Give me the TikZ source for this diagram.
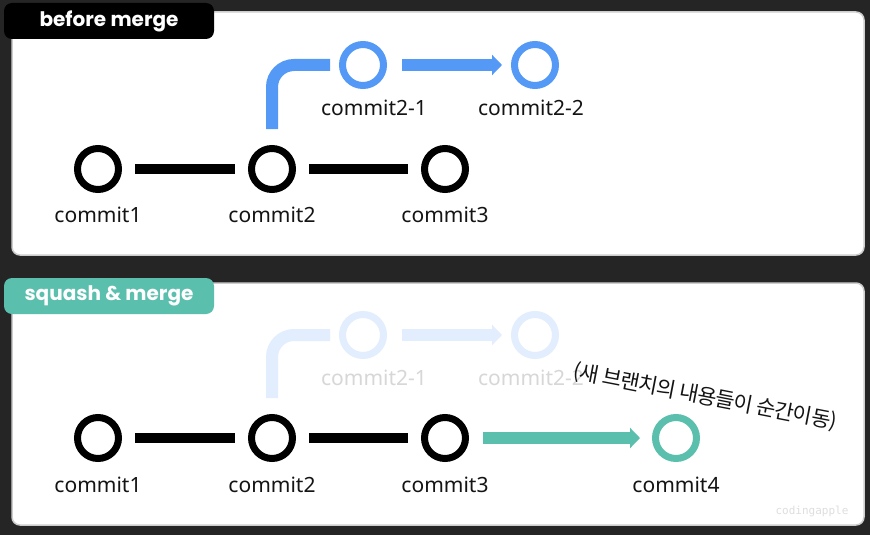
\documentclass[tikz,border=0pt]{standalone}
\usepackage{fontspec}
\setmainfont{Noto Sans}
\newfontfamily\titlefont{Poppins}
\newfontfamily\krfont[LetterSpace=-4]{Noto Sans CJK KR}
\newfontfamily\wmfont{DejaVu Sans Mono}
\usetikzlibrary{arrows.meta}
\definecolor{bgdark}{RGB}{37,37,37}
\definecolor{panelline}{RGB}{205,205,205}
\definecolor{blueC}{RGB}{84,153,245}
\definecolor{tealC}{RGB}{91,191,173}
\definecolor{fadeblue}{RGB}{226,238,253}
\definecolor{fadegrey}{RGB}{215,215,215}
\definecolor{wmgrey}{RGB}{222,222,222}
\definecolor{txt}{RGB}{20,20,20}
\tikzset{
  panel/.style={fill=white, draw=panelline, line width=1.5pt, rounded corners=8pt},
  tab/.style={rounded corners=8pt, minimum width=210pt, minimum height=36pt, inner sep=0pt, text=white, font=\titlefont\bfseries\fontsize{20}{24}\selectfont},
  commit/.style={circle, draw=black, line width=7pt, minimum size=41pt, inner sep=0pt},
  bcommit/.style={commit, draw=blueC},
  fcommit/.style={commit, draw=fadeblue},
  tcommit/.style={commit, draw=tealC},
  lbl/.style={anchor=base, inner sep=0pt, text=txt, font=\fontsize{21}{24}\selectfont},
  flbl/.style={lbl, text=fadegrey},
  blkline/.style={line width=10pt, draw=black, shorten <=13pt, shorten >=13pt},
  barrow/.style={line width=12pt, draw=blueC, -{Triangle[length=10pt,width=20pt]}, shorten <=15pt, shorten >=9pt},
  branch/.style={line width=12pt, draw=blueC, rounded corners=22pt},
}
\begin{document}
\begin{tikzpicture}[x=1pt,y=-1pt]
\fill[bgdark] (0,0) rectangle (870,535);
\useasboundingbox (0,0) rectangle (870,535);
% panels
\draw[panel] (12,12) rectangle (864,255);
\draw[panel] (12,283) rectangle (864,525);
\node[tab, fill=black] (tab1) at (109,21) {\raisebox{-2pt}{before merge}};
\node[tab, fill=tealC] (tab2) at (109,296) {\raisebox{-2pt}{squash \& merge}};

% ---- panel 1 ----
\node[commit] (a1) at (98,169) {};
\node[commit] (a2) at (272,169) {};
\node[commit] (a3) at (445,169) {};
\node[bcommit] (a21) at (363,65) {};
\node[bcommit] (a22) at (535,65) {};
\draw[blkline] (a1) -- (a2);
\draw[blkline] (a2) -- (a3);
\draw[branch] ([yshift=16pt]a2.north) |- ([xshift=-9pt]a21.west);
\draw[barrow] (a21) -- (a22);
\node[lbl] (l1) at (98,222) {commit1};
\node[lbl] (l2) at (272,222) {commit2};
\node[lbl] (l3) at (445,222) {commit3};
\node[lbl] (l21) at (374,115) {commit2-1};
\node[lbl] (l22) at (531,115) {commit2-2};

% ---- panel 2 ----
\node[fcommit] (b21) at (363,335) {};
\node[fcommit] (b22) at (535,335) {};
\node[commit] (b1) at (98,438) {};
\node[commit] (b2) at (272,438) {};
\node[commit] (b3) at (445,438) {};
\node[tcommit] (b4) at (676,438) {};
\draw[branch, draw=fadeblue] ([yshift=16pt]b2.north) |- ([xshift=-9pt]b21.west);
\draw[barrow, draw=fadeblue, fill=fadeblue] (b21) -- (b22);
\node[flbl] (m21) at (374,385) {commit2-1};
\node[flbl] (m22) at (531,385) {commit2-2};
\draw[blkline] (b1) -- (b2);
\draw[blkline] (b2) -- (b3);
\draw[barrow, draw=tealC, fill=tealC, shorten <=14pt, shorten >=12pt] (b3) -- (b4);
\node[lbl] (n1) at (98,492) {commit1};
\node[lbl] (n2) at (272,492) {commit2};
\node[lbl] (n3) at (445,492) {commit3};
\node[lbl] (n4) at (676,492) {commit4};
\node[inner sep=0pt, rotate=-11, text=txt, font=\krfont\fontsize{21}{24}\selectfont] (kr) at (705,397) {(새 브랜치의 내용들이 순간이동)};
\node[inner sep=0pt, text=wmgrey, font=\wmfont\fontsize{11}{13}\selectfont] (wm) at (812,511) {codingapple};
\end{tikzpicture}
\end{document}
